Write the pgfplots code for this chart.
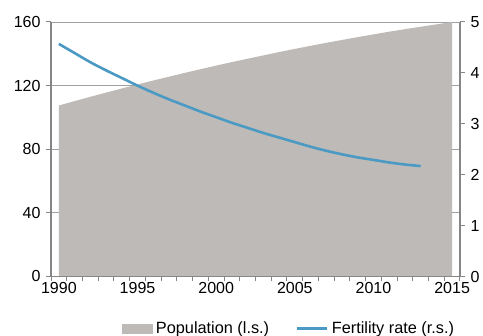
\documentclass[border=0pt]{standalone}
\usepackage{pgfplots}
\pgfplotsset{compat=1.18}
\usepackage{fontspec}
\setmainfont{Liberation Sans}
\definecolor{popgrey}{RGB}{190,186,183}
\definecolor{fertblue}{RGB}{75,154,196}
\definecolor{axgrey}{RGB}{134,134,134}
\definecolor{gridgrey}{RGB}{160,160,160}

\begin{document}
\fontsize{16}{19}\selectfont
\begin{tikzpicture}
\pgfplotsset{
 base/.style={scale only axis, width=409pt, height=254.5pt, xmin=1989.5, xmax=2015.5,
   /pgf/number format/assume math mode=true, /pgf/number format/1000 sep={},
   tick align=outside, major tick length=5pt, minor tick length=5pt,
   tick style={axgrey, line width=1pt}, axis line style={axgrey, line width=1.5pt},
   tick label style={font=\fontsize{16}{19}\selectfont}},
}
\begin{axis}[base, axis x line=none, axis y line*=left, ymin=0, ymax=160,
  ytick={0,40,...,160}, ymajorgrids, grid style={gridgrey, line width=0.8pt}]
\addplot[fill=popgrey, draw=none] coordinates {
(1990,107.5) (1991,110.25) (1992,112.95) (1993,115.6) (1994,118.2) (1995,120.7)
(1996,123.2) (1997,125.6) (1998,128.0) (1999,130.3) (2000,132.6) (2001,134.8)
(2002,136.9) (2003,139.0) (2004,141.1) (2005,143.1) (2006,145.0) (2007,146.9)
(2008,148.7) (2009,150.5) (2010,152.2) (2011,153.9) (2012,155.5) (2013,157.0)
(2014,158.5) (2015,160.0)} \closedcycle;
\end{axis}
\begin{axis}[base, axis x line*=bottom, axis y line*=right, ymin=0, ymax=5,
  ytick={0,...,5}, xtick={1989.5,1990.5,...,2015.5}, xticklabels={},
  extra x ticks={1990,1995,...,2015}, extra x tick style={major tick length=0pt},
  legend style={at={(0.579,-0.204)}, anchor=center, draw=none, legend columns=2,
    font=\fontsize{16.3}{19}\selectfont, inner sep=0pt, nodes={inner sep=0pt},
    /tikz/every odd column/.append style={column sep=4pt},
    /tikz/every even column/.append style={column sep=26pt}},
  legend cell align=left]
\addlegendimage{legend image code/.code={\fill[popgrey] (0pt,-4.5pt) rectangle (30pt,4.5pt);}}
\addlegendentry{Population (l.s.)}
\addplot[fertblue, line width=2.6pt, smooth,
  legend image code/.code={\draw[fertblue, line width=2.6pt] (0pt,0pt) -- (30pt,0pt);}] coordinates {
(1990,4.57) (1991,4.39) (1992,4.21) (1993,4.05) (1994,3.90) (1995,3.75)
(1996,3.61) (1997,3.48) (1998,3.36) (1999,3.24) (2000,3.13) (2001,3.02)
(2002,2.92) (2003,2.82) (2004,2.73) (2005,2.64) (2006,2.55) (2007,2.47)
(2008,2.40) (2009,2.34) (2010,2.29) (2011,2.24) (2012,2.20) (2013,2.17)};
\addlegendentry{Fertility rate (r.s.)}
\end{axis}
\pgfresetboundingbox
\path (-51pt,-59.5pt) rectangle (432pt,276.5pt);
\end{tikzpicture}
\end{document}
